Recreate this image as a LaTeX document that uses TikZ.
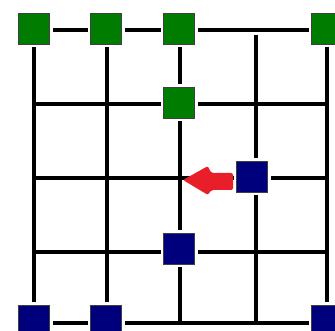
\documentclass[tikz,border=0pt]{standalone}
\definecolor{sqgreen}{RGB}{0,125,0}
\definecolor{sqblue}{RGB}{0,0,125}
\definecolor{arrred}{RGB}{232,30,40}
\begin{document}
\begin{tikzpicture}[x=1pt,y=-1pt,
  sq/.style={draw=black!75, line width=0.8pt, minimum size=31pt, inner sep=0pt,
    preaction={draw=white, line width=6pt}},
  gsq/.style={sq, fill=sqgreen},
  bsq/.style={sq, fill=sqblue},
  gl/.style={line width=3.3pt, black}]
\fill[white] (0,0) rectangle (335,331);
\useasboundingbox (0,0) rectangle (335,331);
% grid points
\foreach \c/\x in {1/34,2/107,3/180,4/256,5/327}
  \foreach \r/\y in {1/30,2/104,3/178,4/252,5/323}
    \coordinate (p\c\r) at (\x,\y);
% horizontal lines
\foreach \r in {1,2,3,4,5}
  \draw[gl] (p1\r) -- (p5\r);
% vertical lines
\foreach \c in {1,2,3,5}
  \draw[gl] (p\c1) -- (p\c5);
\draw[gl, shorten <=5pt] (p41) -- (p45);
% squares
\node[gsq] (gA) at (34,29) {};
\node[gsq] (gB) at (106,29) {};
\node[gsq] (gC) at (179,29) {};
\node[gsq] (gD) at (327,29) {};
\node[gsq] (gE) at (179,103) {};
\node[bsq] (bA) at (252,177) {};
\node[bsq] (bB) at (179,249) {};
\node[bsq] (bC) at (34,321) {};
\node[bsq] (bD) at (106,321) {};
\node[bsq] (bE) at (327,321) {};
% red arrow
\fill[arrred, rounded corners=2pt] (183,180) -- (208,166) -- (211,173) -- (233,173)
  -- (233,190) -- (211,190) -- (208,195) -- cycle;
\end{tikzpicture}
\end{document}
